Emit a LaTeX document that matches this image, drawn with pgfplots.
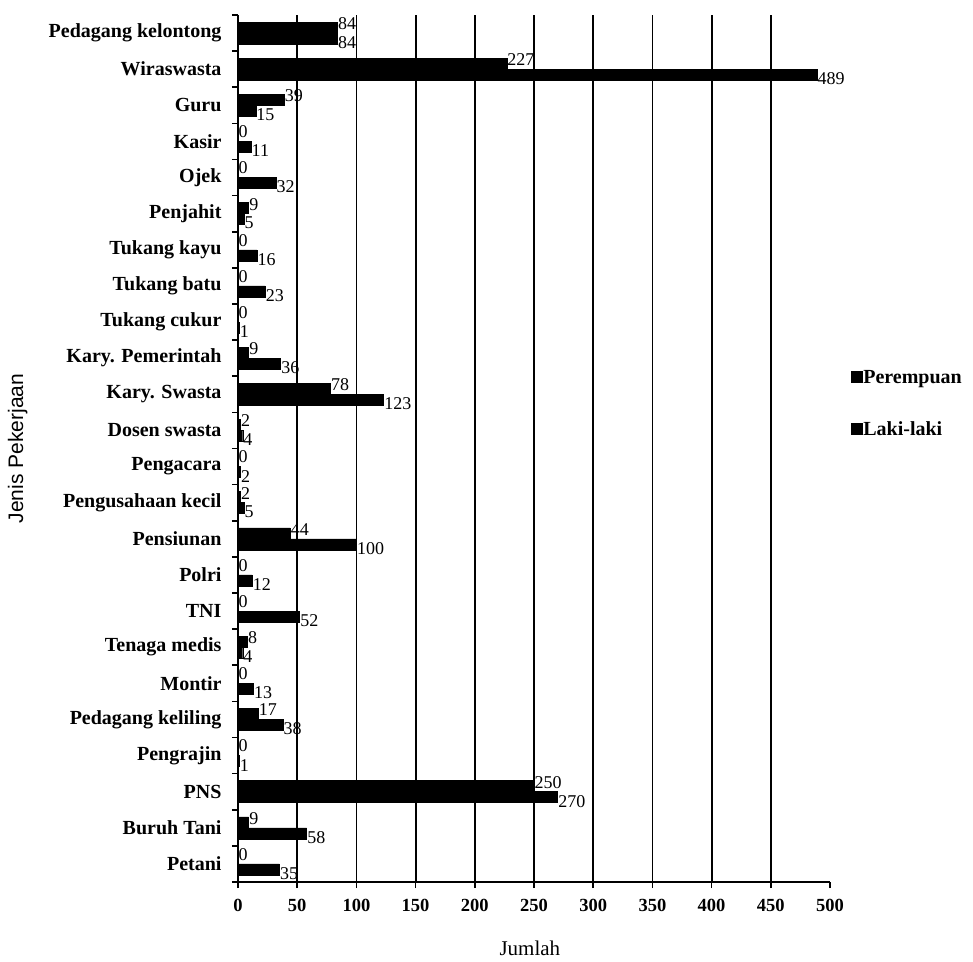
\documentclass[border=0pt]{standalone}
\usepackage{pgfplots}
\pgfplotsset{compat=1.18}
\usepackage{pgfplotstable}
\usepackage{fontspec}
\setmainfont{Liberation Serif}
\newfontfamily\arialfont{Liberation Sans}

\pgfplotstableread{
y p l
0 0 35
1 9 58
2 250 270
3 0 1
4 17 38
5 0 13
6 8 4
7 0 52
8 0 12
9 44 100
10 2 5
11 0 2
12 2 4
13 78 123
14 9 36
15 0 1
16 0 23
17 0 16
18 9 5
19 0 32
20 0 11
21 39 15
22 227 489
23 84 84
}\data

\begin{document}
\begin{tikzpicture}[x=1pt,y=1pt]
\path[use as bounding box] (0,0) rectangle (973,961);
\begin{axis}[
  at={(238pt,79pt)}, anchor=south west,
  scale only axis, width=592pt, height=867pt,
  xbar, bar width=11pt,
  xmin=0, xmax=500, ymin=-0.5, ymax=23.5,
  axis x line*=bottom, axis y line*=left,
  axis line style={black, line width=1.8pt, -},
  tick align=outside,
  major tick length=6pt, minor tick length=6pt,
  tick style={black, line width=1.6pt},
  xtick={0,50,...,450},
  extra x ticks={500},
  extra x tick style={grid=none},
  xmajorgrids,
  grid style={black, line width=1.8pt},
  ytick={0,...,23},
  minor ytick={-0.5,0.5,...,23.5},
  every major y tick/.append style={draw=none},
  yticklabels={Petani,Buruh Tani,PNS,Pengrajin,Pedagang keliling,Montir,Tenaga medis,TNI,Polri,Pensiunan,Pengusahaan kecil,Pengacara,Dosen swasta,Kary. Swasta,Kary. Pemerintah,Tukang cukur,Tukang batu,Tukang kayu,Penjahit,Ojek,Kasir,Guru,Wiraswasta,Pedagang kelontong},
  yticklabel style={font=\bfseries\fontsize{20}{22}\selectfont, anchor=east, xshift=-7pt},
  /pgf/number format/assume math mode=true,
  xticklabel style={font=\bfseries\fontsize{18.5}{20}\selectfont, yshift=-8pt},
  xlabel={Jumlah},
  ylabel={Jenis Pekerjaan},
  every axis x label/.style={at={(rel axis cs:0.493,-0.076)}, anchor=center, font=\fontsize{21}{23}\selectfont},
  every axis y label/.style={at={(rel axis cs:-0.372,0.5)}, rotate=90, anchor=center, font=\arialfont\fontsize{21}{23}\selectfont},
  nodes near coords,
  nodes near coords style={font=\fontsize{18}{20}\selectfont, anchor=west, inner sep=0.5pt, /pgf/number format/fixed, /pgf/number format/precision=0},
  legend style={at={(rel axis cs:1.035,0.592)}, anchor=north west, draw=none, fill=none,
    font=\bfseries\fontsize{20}{22}\selectfont, row sep=35pt, inner sep=0pt,
    nodes={inner sep=1pt}},
  legend cell align=left,
  legend image code/.code={\fill[black] (0pt,-5pt) rectangle (11pt,6pt);},
  clip=false,
]
\addplot[fill=black, draw=black, bar shift=5.5pt,
  every node near coord/.append style={yshift=4pt}] table[x=p, y=y] {\data};
\addlegendentry{Perempuan}
\addplot[fill=black, draw=black, bar shift=-5.5pt,
  every node near coord/.append style={yshift=-4pt}] table[x=l, y=y] {\data};
\addlegendentry{Laki-laki}
\end{axis}
\end{tikzpicture}
\end{document}
